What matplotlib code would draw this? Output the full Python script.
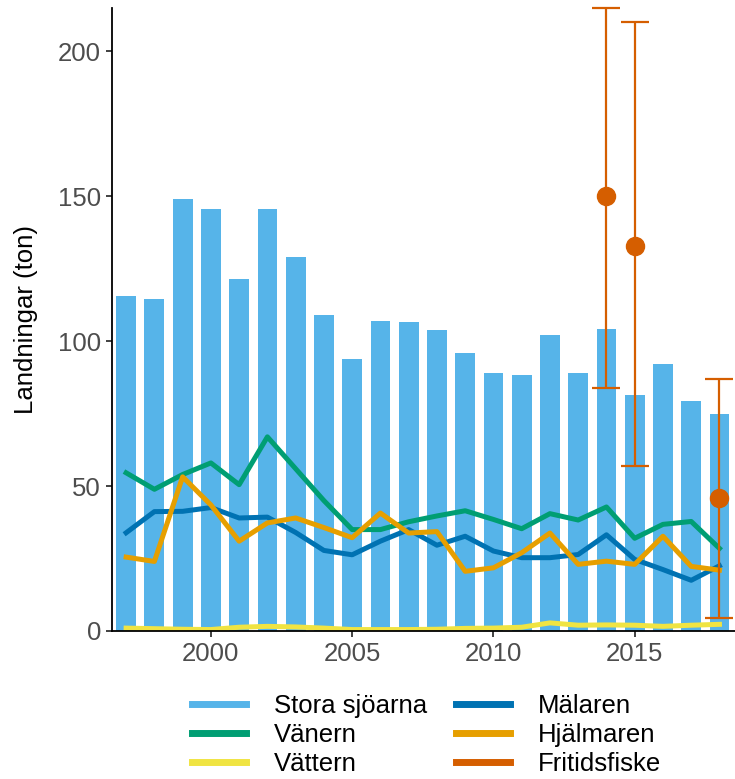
import matplotlib
matplotlib.use("Agg")
import matplotlib.pyplot as plt
from matplotlib.lines import Line2D
import numpy as np

years = list(range(1997, 2019))
stora = [115.5, 114.5, 149, 145.5, 121.5, 145.5, 129, 109, 94, 107, 106.5,
         103.8, 96, 89, 88.5, 102.3, 89, 104.3, 81.5, 92, 79.5, 75]
vanern = [54.6, 48.9, 54, 58, 50.5, 67, 56, 45, 35, 35, 37.7,
          39.7, 41.5, 38.5, 35.3, 40.5, 38.3, 42.8, 32, 36.8, 37.8, 28.5]
malaren = [33.9, 41.2, 41.3, 42.6, 39, 39.3, 34, 27.8, 26.3, 31, 35,
           29.6, 32.7, 27.6, 25.3, 25.3, 26.4, 33.2, 24.7, 21.2, 17.5, 22.5]
hjalmaren = [25.5, 24, 53.2, 43.5, 31, 37.3, 39, 35.7, 32.2, 40.7, 33.8,
             34.3, 20.6, 21.8, 27, 33.8, 23, 24.1, 23, 32.7, 22.3, 21]
vattern = [1.0, 0.8, 0.6, 0.5, 1.3, 1.6, 1.4, 1.0, 0.5, 0.5, 0.5,
           0.6, 0.9, 1.0, 1.3, 2.8, 2.0, 2.1, 2.0, 1.6, 2.0, 2.3]

fritid_years = [2014, 2015, 2018]
fritid = [150, 133, 46]
fritid_low = [84, 57, 4.4]
fritid_high = [215, 210, 87]

c_stora = '#56B4E9'
c_vanern = '#009E73'
c_vattern = '#F0E442'
c_malaren = '#0072B2'
c_hjalm = '#E69F00'
c_fritid = '#D55E00'

plt.rcParams['font.family'] = ['Liberation Sans', 'DejaVu Sans']
plt.rcParams['font.size'] = 18.5

fig = plt.figure(figsize=(7.35, 7.79), dpi=100)
ax = fig.add_axes([112 / 735, 148 / 779, 623 / 735, 623 / 779])

lw = 3.6
ax.bar(years, stora, width=0.7, color=c_stora, zorder=1)
ax.plot(years, vanern, color=c_vanern, lw=lw, zorder=2)
ax.plot(years, vattern, color=c_vattern, lw=lw, zorder=2)
ax.plot(years, malaren, color=c_malaren, lw=lw, zorder=2)
ax.plot(years, hjalmaren, color=c_hjalm, lw=lw, zorder=2)

err = [np.array(fritid) - np.array(fritid_low), np.array(fritid_high) - np.array(fritid)]
ax.errorbar(fritid_years, fritid, yerr=err, fmt='o', color=c_fritid, ms=13,
            elinewidth=1.6, capsize=10, capthick=1.6, zorder=3, clip_on=False)

ax.set_xlim(1996.5, 2018.55)
ax.set_ylim(0, 215)
ax.set_yticks([0, 50, 100, 150, 200])
ax.set_xticks([2000, 2005, 2010, 2015])
ax.set_ylabel('Landningar (ton)', labelpad=14)

for s in ['top', 'right']:
    ax.spines[s].set_visible(False)
for s in ['left', 'bottom']:
    ax.spines[s].set_linewidth(1.3)
ax.tick_params(colors='#333333', labelcolor='#4D4D4D', length=4.5, width=1.3)

handles = [
    Line2D([], [], color=c_stora, lw=5),
    Line2D([], [], color=c_vanern, lw=5),
    Line2D([], [], color=c_vattern, lw=5),
    Line2D([], [], color=c_malaren, lw=5),
    Line2D([], [], color=c_hjalm, lw=5),
    Line2D([], [], color=c_fritid, lw=5),
]
labels = ['Stora sjöarna', 'Vänern', 'Vättern', 'Mälaren', 'Hjälmaren', 'Fritidsfiske']
fig.legend(handles, labels, ncol=2, loc='upper left', bbox_to_anchor=(192 / 735, 1 - 694 / 779),
           frameon=False, handlelength=2.1, handletextpad=1.1, columnspacing=1.1,
           labelspacing=0.2, borderpad=0, borderaxespad=0)

fig.savefig('out.png', dpi=100)
